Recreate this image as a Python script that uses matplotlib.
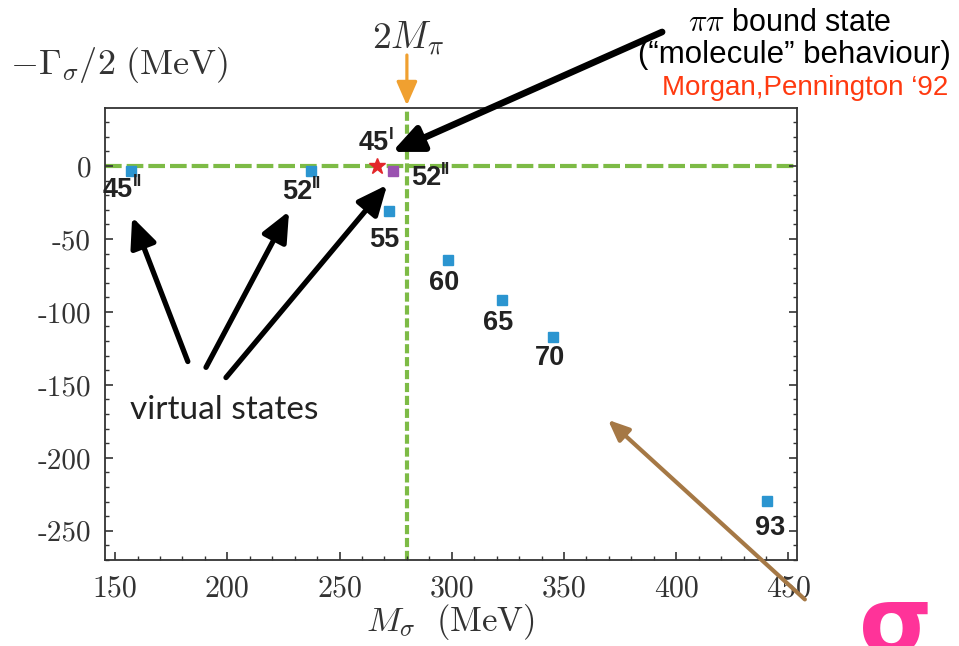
import numpy as np
import matplotlib.pyplot as plt
from matplotlib.ticker import MultipleLocator

plt.rcParams['mathtext.fontset'] = 'cm'

# pole positions (MeV)
m_blue = [157.1, 237.3, 272.0, 298.2, 322.5, 345.2, 440.3]
g_blue = [-3.4, -3.4, -30.8, -64.4, -91.8, -116.9, -229.9]
lab_blue = ['45', '52', '55', '60', '65', '70', '93']
sup_blue = ['II', 'II', '', '', '', '', '']
m_star, g_star = 266.7, 0.0
m_purple, g_purple = 273.8, -3.4
two_mpi = 280.0

xticks = [150, 200, 250, 300, 350, 400, 450]
yticks = [0, -50, -100, -150, -200, -250]

# label offsets (pixels, +down) relative to each point
off_blue = [(-13, 19), (-14, 21), (-5, 29), (-4, 23), (-4, 23), (-3, 21), (3, 27)]

fig = plt.figure(figsize=(9.59, 6.46), dpi=100)
ax = fig.add_axes([105 / 959, 86 / 646, 692 / 959, 452 / 646])
ax.set_xlim(145.5, 453.8)
ax.set_ylim(-270, 39.7)

green = '#7dbb46'
ax.axhline(0, color=green, lw=3, dashes=(4, 1.2), zorder=1)
ax.axvline(two_mpi, color=green, lw=3, dashes=(2.2, 0.9), zorder=1)

ax.plot(m_blue, g_blue, 's', color='#2b95d0', ms=7, zorder=3)
ax.plot([m_star], [g_star], '*', color='#e3262a', ms=12, zorder=3)
ax.plot([m_purple], [g_purple], 's', color='#9a52b0', ms=7.5, zorder=3)

numfont = dict(family='Liberation Sans', weight='bold', color='#222222')


def num_label(x, y, dx, dy, num, sup):
    ax.annotate(num, (x, y), xytext=(dx, -dy), textcoords='offset pixels',
                ha='center', va='center', fontsize=19.5, **numfont)
    if sup:
        ax.annotate(sup, (x, y), xytext=(dx + 15, -dy + 8), textcoords='offset pixels',
                    ha='left', va='center', fontsize=12, **numfont)


for x, y, (dx, dy), n, s in zip(m_blue, g_blue, off_blue, lab_blue, sup_blue):
    num_label(x, y, dx, dy, n, s)
num_label(m_star, g_star, -3, -23, '45', 'I')
num_label(m_purple, g_purple, 33, 7, '52', 'II')

# black arrows
black = dict(arrowstyle='-|>,head_length=0.9,head_width=0.4', color='k', lw=3.8,
             mutation_scale=20, shrinkA=0, shrinkB=0)
for tail, head in [((182.4, -134), (157.6, -35)),
                   ((190.5, -138), (227.5, -31)),
                   ((199.4, -145), (271.2, -13))]:
    ax.annotate('', xy=head, xytext=tail, arrowprops=black, annotation_clip=False)
top = dict(black, lw=4.8)
ax.annotate('', xy=(273.4, 9.6), xytext=(393.7, 91.8), arrowprops=top, annotation_clip=False)

# orange arrow at 2 M_pi
ax.annotate('', xy=(two_mpi, 41.5), xytext=(two_mpi, 76),
            arrowprops=dict(arrowstyle='-|>,head_length=0.8,head_width=0.35', color='#f0a030',
                            lw=2.3, mutation_scale=18, shrinkA=0, shrinkB=0),
            annotation_clip=False)

# brown arrow
ax.annotate('', xy=(369.6, -174), xytext=(457.3, -297),
            arrowprops=dict(arrowstyle='-|>,head_length=0.7,head_width=0.3', color='#a57845',
                            lw=3, mutation_scale=18, shrinkA=0, shrinkB=0),
            annotation_clip=False)

ax.text(130 / 959, 1 - 410 / 646, 'virtual states', transform=fig.transFigure,
        fontsize=24, family='Lato', color='#222222', va='center', ha='left')

# axes styling
ax.set_xticks(xticks)
ax.set_yticks(yticks)
ax.set_xticklabels([str(v) for v in xticks], fontfamily='cmr10', fontsize=21.5, color='#333333')
ax.set_yticklabels([str(v) for v in yticks], fontfamily='cmr10', fontsize=21, color='#333333')
ax.xaxis.set_minor_locator(MultipleLocator(10))
ax.yaxis.set_minor_locator(MultipleLocator(10))
ax.tick_params(which='both', direction='in', right=True, top=False, color='#333333')
ax.tick_params(which='major', length=6, width=1.2)
ax.tick_params(which='minor', length=3, width=1)
ax.tick_params(axis='x', pad=11)
ax.tick_params(axis='y', pad=10)
for s in ax.spines.values():
    s.set_color('#333333')
    s.set_linewidth(1.3)

fig.text(10 / 959, 1 - 65 / 646, r'$-\Gamma_\sigma/2\ (\mathrm{MeV})$',
         fontsize=26, color='#333333', ha='left', va='center')
fig.text(450 / 959, 1 - 622 / 646, r'$M_\sigma\ \ (\mathrm{MeV})$',
         fontsize=25, color='#333333', ha='center', va='center')
fig.text(408 / 959, 1 - 38 / 646, r'$2M_\pi$', fontsize=27, color='#333333',
         ha='center', va='center')

fig.text(790 / 959, 1 - 23 / 646, r'$\pi\pi$ bound state', fontsize=22,
         family='Liberation Sans', ha='center', va='center')
fig.text(794 / 959, 1 - 55 / 646, '(\u201cmolecule\u201d behaviour)', fontsize=22.5,
         family='Liberation Sans', ha='center', va='center')
fig.text(948 / 959, 1 - 88 / 646, 'Morgan,Pennington \u201892', fontsize=20,
         family='Liberation Sans', color='#ff3a10', ha='right', va='center')

fig.text(896 / 959, -0.012, '\u03c3', fontsize=68, family='DejaVu Sans', weight='bold',
         color='#ff3399', ha='center', va='baseline')

fig.savefig('out.png', dpi=100)
